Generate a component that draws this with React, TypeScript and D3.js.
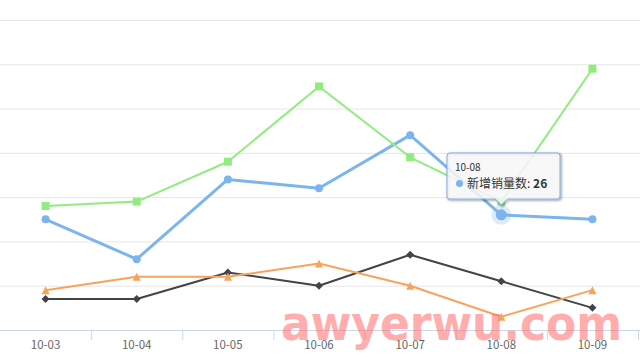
import React from 'react';
import * as d3 from 'd3';

const categories = ['10-03', '10-04', '10-05', '10-06', '10-07', '10-08', '10-09'];
const salesNew = [25, 16, 34, 32, 44, 26, 25];
const seriesDark = [7, 7, 13, 10, 17, 11, 5];
const seriesGreen = [28, 29, 38, 55, 39, 29, 59];
const seriesOrange = [9, 12, 12, 15, 10, 3, 9];
const yTicks = [0, 10, 20, 30, 40, 50, 60, 70];
const hoverIndex = 5;
const tooltipTitle = '10-08';
const tooltipLabel = '新增销量数';

const W = 640;
const H = 360;

export default function App() {
  const x = d3.scaleBand<string>().domain(categories).range([0, 638]).padding(0);
  const cx = (c: string) => (x(c) as number) + x.bandwidth() / 2;
  const y = d3.scaleLinear().domain([0, 70]).range([330, 20]);

  const line = d3
    .line<number>()
    .x((_, i) => cx(categories[i]))
    .y((d) => y(d));

  const series = [
    { name: tooltipLabel, data: salesNew, color: '#7cb5ec', width: 3, marker: 'circle' },
    { name: 's2', data: seriesDark, color: '#434348', width: 2, marker: 'diamond' },
    { name: 's3', data: seriesGreen, color: '#90ed7d', width: 2, marker: 'square' },
    { name: 's4', data: seriesOrange, color: '#f7a35c', width: 2, marker: 'triangle' },
  ];

  const markerPath = (type: string, px: number, py: number) => {
    const r = 4;
    if (type === 'diamond') return `M${px},${py - r}L${px + r},${py}L${px},${py + r}L${px - r},${py}Z`;
    if (type === 'square') return `M${px - r},${py - r}H${px + r}V${py + r}H${px - r}Z`;
    if (type === 'triangle') return `M${px},${py - r}L${px + r},${py + r}L${px - r},${py + r}Z`;
    return d3.arc()({ innerRadius: 0, outerRadius: r, startAngle: 0, endAngle: Math.PI * 2 }) as string;
  };

  // tooltip geometry
  const hx = cx(categories[hoverIndex]);
  const hy = y(salesNew[hoverIndex]);
  const bx0 = 447, by0 = 153, bx1 = 560, by1 = 199, rr = 3;
  const ax = hx;
  const tipPath = `M${bx0 + rr},${by0}H${bx1 - rr}Q${bx1},${by0} ${bx1},${by0 + rr}V${by1 - rr}Q${bx1},${by1} ${bx1 - rr},${by1}H${ax + 6}L${ax},${by1 + 6}L${ax - 6},${by1}H${bx0 + rr}Q${bx0},${by1} ${bx0},${by1 - rr}V${by0 + rr}Q${bx0},${by0} ${bx0 + rr},${by0}Z`;

  const font = '"Noto Sans CJK SC", "Noto Sans", sans-serif';

  return (
    <svg width={W} height={H} style={{ position: 'absolute', left: 0, top: 0, background: '#fff' }}>
      <rect width={W} height={H} fill="#fff" />
      {/* grid */}
      {yTicks.slice(1).map((t) => (
        <line key={t} x1={0} x2={640} y1={y(t) + 0.5} y2={y(t) + 0.5} stroke="#e6e6e6" strokeWidth={1} />
      ))}
      {/* x axis */}
      <line x1={0} x2={640} y1={330.5} y2={330.5} stroke="#ccd6eb" strokeWidth={1} />
      {categories.map((c) => (
        <line key={c} x1={(x(c) as number) + x.bandwidth() + 0.5} x2={(x(c) as number) + x.bandwidth() + 0.5} y1={330} y2={340} stroke="#ccd6eb" />
      ))}
      {categories.map((c) => (
        <text key={c} x={cx(c)} y={349} textAnchor="middle" fontSize={11.5} fill="#666" fontFamily={font}>
          {c}
        </text>
      ))}
      {/* series lines */}
      {series.map((s) => (
        <path key={s.name} d={line(s.data) as string} fill="none" stroke={s.color} strokeWidth={s.width} strokeLinejoin="round" strokeLinecap="round" />
      ))}
      {/* markers */}
      {series.map((s) =>
        s.data.map((v, i) => {
          const px = cx(categories[i]);
          const py = y(v);
          if (s.marker === 'circle') {
            return <circle key={s.name + i} cx={px} cy={py} r={4} fill={s.color} />;
          }
          return <path key={s.name + i} d={markerPath(s.marker, px, py)} fill={s.color} />;
        })
      )}
      {/* hover halo */}
      <circle cx={hx} cy={hy} r={10} fill="#7cb5ec" opacity={0.25} />
      <circle cx={hx} cy={hy} r={5.5} fill="#7cb5ec" />
      {/* tooltip */}
      <g>
        <path d={tipPath} transform="translate(1,1)" fill="none" stroke="#000" strokeOpacity={0.05} strokeWidth={5} />
        <path d={tipPath} transform="translate(1,1)" fill="none" stroke="#000" strokeOpacity={0.1} strokeWidth={3} />
        <path d={tipPath} transform="translate(1,1)" fill="none" stroke="#000" strokeOpacity={0.15} strokeWidth={1} />
        <path d={tipPath} fill="rgba(247,247,247,0.85)" stroke="#7cb5ec" strokeWidth={1} />
        <text x={455} y={171} fontSize={10} fill="#333" fontFamily={font}>
          {tooltipTitle}
        </text>
        <circle cx={459.5} cy={183.5} r={3.5} fill="#7cb5ec" />
        <text x={467} y={188} fontSize={12} fill="#333" fontFamily={font}>
          {tooltipLabel}:{' '}
          <tspan fontWeight="bold">{salesNew[hoverIndex]}</tspan>
        </text>
      </g>
      {/* watermark */}
      <text
        x={281}
        y={340}
        fontSize={48}
        fontWeight="bold"
        fontFamily='"DejaVu Sans", sans-serif'
        fill="#ff6b6b"
        opacity={0.55}
        textLength={341}
        lengthAdjust="spacingAndGlyphs"
      >
        awyerwu.com
      </text>
    </svg>
  );
}
